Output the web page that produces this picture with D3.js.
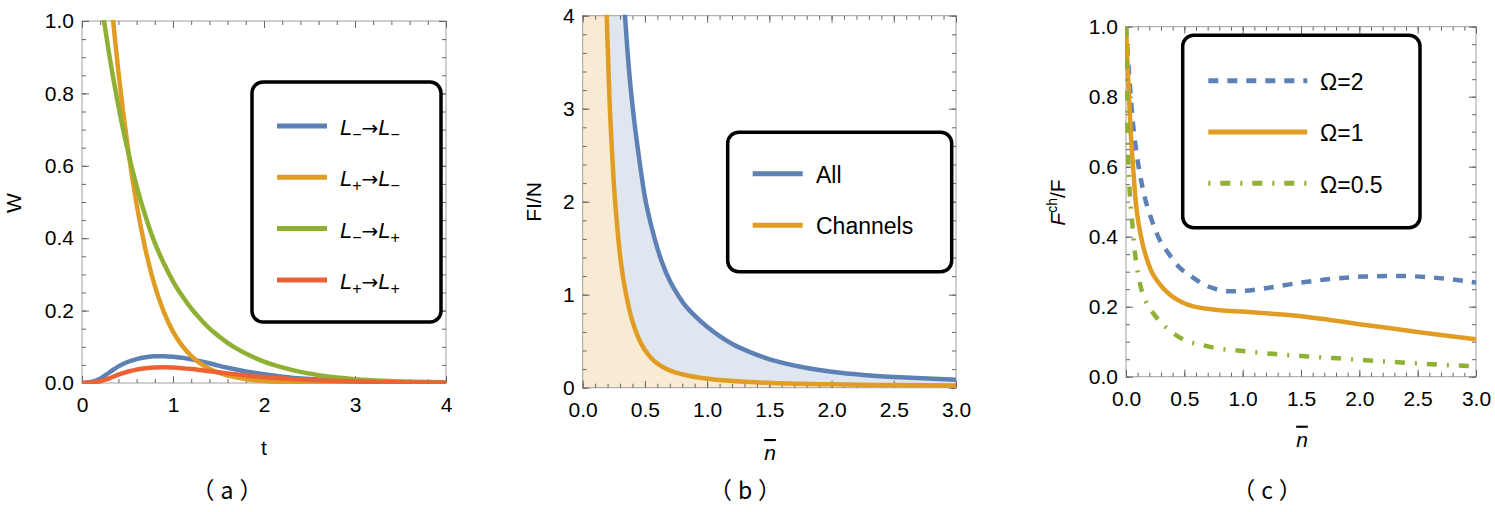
<!DOCTYPE html>
<html>
<head>
<meta charset="utf-8">
<script src="https://cdn.jsdelivr.net/npm/d3@7.9.0/dist/d3.min.js"></script>
<style>
  body { margin: 0; background: #fff; }
  svg text { font-family: "Liberation Sans", Arial, sans-serif; fill: #000; }
</style>
</head>
<body>
<svg id="chart" width="1495" height="512"></svg>
<script>
// ---- panel (a): W vs t ----
const aT = [0, 0.1, 0.2, 0.3, 0.4, 0.5, 0.6, 0.7, 0.8, 0.9, 1.0, 1.1, 1.2, 1.3, 1.4, 1.5, 1.6, 1.8, 2.0, 2.2, 2.5, 2.8, 3.2, 3.6, 4.0];
const aMinusMinus = [0, 0.003, 0.012, 0.029, 0.046, 0.058, 0.066, 0.0712, 0.0738, 0.0742, 0.0727, 0.0695, 0.0652, 0.0603, 0.0545, 0.048, 0.042, 0.032, 0.024, 0.0175, 0.011, 0.0068, 0.0034, 0.0017, 0.0009];
const aPlusPlus = [0, 0.001, 0.005, 0.013, 0.023, 0.031, 0.037, 0.041, 0.0428, 0.0432, 0.0425, 0.0408, 0.0385, 0.0357, 0.0327, 0.0296, 0.0266, 0.021, 0.0162, 0.0123, 0.0082, 0.0053, 0.0028, 0.0015, 0.0008];
const aTOrange = [0.3, 0.35, 0.4, 0.5, 0.6, 0.7, 0.8, 0.9, 1.0, 1.1, 1.2, 1.3, 1.4, 1.5, 1.7, 1.9, 2.2, 2.6, 3.0, 4.0];
const aPlusMinus = [1.12, 0.98, 0.86, 0.657, 0.494, 0.366, 0.268, 0.196, 0.142, 0.103, 0.075, 0.054, 0.039, 0.0286, 0.015, 0.0079, 0.003, 0.0008, 0.0002, 0];
const aTGreen = [0.2, 0.242, 0.3, 0.4, 0.5, 0.6, 0.7, 0.8, 0.9, 1.0, 1.1, 1.2, 1.3, 1.4, 1.5, 1.6, 1.7, 1.8, 2.0, 2.2, 2.4, 2.6, 2.8, 3.0, 3.3, 3.6, 4.0];
const aMinusPlus = [1.074, 1.0, 0.906, 0.765, 0.645, 0.544, 0.459, 0.387, 0.33, 0.281, 0.241, 0.206, 0.177, 0.151, 0.13, 0.111, 0.095, 0.0815, 0.0592, 0.043, 0.0306, 0.0218, 0.0152, 0.0106, 0.0062, 0.0036, 0.0018];
const aLegend = [["−", "−"], ["+", "−"], ["−", "+"], ["+", "+"]]; // L_i -> L_j
const aXTicks = [0, 1, 2, 3, 4];
const aYTicks = [0, 0.2, 0.4, 0.6, 0.8, 1.0];

// ---- panel (b): FI/N vs n ----
const bNAll = [0.32, 0.34, 0.37, 0.407, 0.45, 0.5, 0.555, 0.6, 0.648, 0.7, 0.75, 0.809, 0.9, 1.0, 1.1, 1.21, 1.35, 1.48, 1.6, 1.75, 2.0, 2.28, 2.55, 2.82, 3.0];
const bAll = [4.45, 4.0, 3.45, 2.95, 2.5, 2.05, 1.72, 1.5, 1.31, 1.15, 1.03, 0.91, 0.775, 0.655, 0.555, 0.465, 0.38, 0.315, 0.27, 0.225, 0.172, 0.135, 0.112, 0.095, 0.086];
const bNChan = [0.185, 0.193, 0.2, 0.21, 0.22, 0.235, 0.25, 0.27, 0.29, 0.31, 0.33, 0.36, 0.39, 0.42, 0.46, 0.5, 0.55, 0.6, 0.675, 0.75, 0.85, 0.943, 1.1, 1.21, 1.35, 1.48, 1.75, 2.0, 2.5, 3.0];
const bChannels = [4.4, 4.0, 3.7, 3.3, 2.95, 2.55, 2.2, 1.85, 1.55, 1.32, 1.14, 0.93, 0.76, 0.63, 0.5, 0.405, 0.32, 0.26, 0.2, 0.163, 0.129, 0.108, 0.084, 0.072, 0.061, 0.053, 0.0425, 0.036, 0.028, 0.0235];
const bLegend = ["All", "Channels"];
const bXTicks = [0, 0.5, 1.0, 1.5, 2.0, 2.5, 3.0];
const bYTicks = [0, 1, 2, 3, 4];

// ---- panel (c): F^ch/F vs n ----
const cN2 = [0, 0.015, 0.034, 0.057, 0.091, 0.14, 0.22, 0.29, 0.363, 0.45, 0.563, 0.67, 0.777, 0.891, 1.0, 1.177, 1.463, 1.748, 2.034, 2.32, 2.605, 2.891, 3.0];
const cOmega2 = [1.0, 0.92, 0.83, 0.733, 0.638, 0.543, 0.448, 0.39, 0.353, 0.315, 0.286, 0.263, 0.25, 0.244, 0.245, 0.252, 0.267, 0.279, 0.286, 0.288, 0.284, 0.274, 0.269];
const cN1 = [0, 0.012, 0.026, 0.04, 0.055, 0.07, 0.085, 0.1, 0.12, 0.14, 0.163, 0.19, 0.22, 0.263, 0.32, 0.39, 0.48, 0.577, 0.7, 0.806, 1.0, 1.25, 1.5, 1.75, 2.0, 2.25, 2.5, 2.75, 3.0];
const cOmega1 = [1.0, 0.9, 0.8, 0.7, 0.625, 0.555, 0.495, 0.455, 0.415, 0.383, 0.353, 0.325, 0.3, 0.276, 0.252, 0.231, 0.213, 0.201, 0.194, 0.19, 0.186, 0.18, 0.173, 0.162, 0.15, 0.139, 0.128, 0.117, 0.107];
const cN05 = [0, 0.006, 0.017, 0.029, 0.051, 0.077, 0.1, 0.126, 0.17, 0.234, 0.3, 0.406, 0.5, 0.663, 0.8, 0.92, 1.1, 1.377, 1.65, 1.92, 2.2, 2.49, 2.76, 3.0];
const cOmega05 = [1.0, 0.83, 0.64, 0.543, 0.448, 0.353, 0.3, 0.257, 0.215, 0.181, 0.155, 0.124, 0.105, 0.09, 0.08, 0.076, 0.07, 0.062, 0.056, 0.05, 0.044, 0.038, 0.033, 0.03];
const cLegend = ["Ω=2", "Ω=1", "Ω=0.5"];
const cXTicks = [0, 0.5, 1.0, 1.5, 2.0, 2.5, 3.0];
const cYTicks = [0, 0.2, 0.4, 0.6, 0.8, 1.0];

const blue = "#5E81B5", orange = "#E19C24", green = "#8FB032", red = "#EB6235";
const dash2 = "10,9", dashDot = "10,10,2,10";

const svg = d3.select("#chart");
const defs = svg.append("defs");
let clipN = 0;

function panel(box, xDom, yDom) {
  const w = box.right - box.left, h = box.bottom - box.top;
  const g = svg.append("g").attr("transform", `translate(${box.left},${box.top})`);
  const x = d3.scaleLinear().domain(xDom).range([0, w]);
  const y = d3.scaleLinear().domain(yDom).range([h, 0]);
  const id = "clip" + (clipN++);
  defs.append("clipPath").attr("id", id)
    .append("rect").attr("x", -1).attr("y", -1).attr("width", w + 2).attr("height", h + 2);
  const fillId = "fclip" + clipN;
  defs.append("clipPath").attr("id", fillId)
    .append("rect").attr("width", w).attr("height", h);
  return { g, x, y, w, h, id, fillId };
}

function frame(p, xMajor, xStep, yMajor, yStep, xFmt, yFmt) {
  const xd = p.x.domain(), yd = p.y.domain();
  const xMinor = d3.range(xd[0], xd[1] + 1e-9, xStep);
  const yMinor = d3.range(yd[0], yd[1] + 1e-9, yStep);
  p.g.append("rect").attr("width", p.w).attr("height", p.h)
    .attr("fill", "none").attr("stroke", "#a0a0a0");

  function put(axis, tx, ty) {
    const a = p.g.append("g").attr("transform", `translate(${tx},${ty})`).call(axis);
    a.select(".domain").remove();
    a.selectAll("line").attr("stroke", "#666");
    a.attr("font-size", 21).attr("font-family", null);
    return a;
  }
  put(d3.axisBottom(p.x).tickValues(xMinor).tickSize(-4).tickFormat(""), 0, p.h);
  put(d3.axisTop(p.x).tickValues(xMinor).tickSize(-4).tickFormat(""), 0, 0);
  put(d3.axisLeft(p.y).tickValues(yMinor).tickSize(-4).tickFormat(""), 0, 0);
  put(d3.axisRight(p.y).tickValues(yMinor).tickSize(-4).tickFormat(""), p.w, 0);
  put(d3.axisBottom(p.x).tickValues(xMajor).tickSizeInner(-7).tickSizeOuter(0).tickPadding(14).tickFormat(d3.format(xFmt)), 0, p.h);
  put(d3.axisTop(p.x).tickValues(xMajor).tickSize(-7).tickFormat(""), 0, 0);
  put(d3.axisLeft(p.y).tickValues(yMajor).tickSizeInner(-7).tickSizeOuter(0).tickPadding(8).tickFormat(d3.format(yFmt)), 0, 0);
  put(d3.axisRight(p.y).tickValues(yMajor).tickSize(-7).tickFormat(""), p.w, 0);
}

function curve(p, xs, ys, color, dash) {
  const line = d3.line().x(d => p.x(d[0])).y(d => p.y(d[1])).curve(d3.curveMonotoneX);
  p.g.append("path").datum(d3.zip(xs, ys))
    .attr("d", line)
    .attr("fill", "none")
    .attr("stroke", color)
    .attr("stroke-width", 4.5)
    .attr("stroke-dasharray", dash || null)
    .attr("clip-path", `url(#${p.id})`);
}

function fillToAxis(p, xs, ys, color) {
  const pts = [[p.x.domain()[0], ys[0]]].concat(d3.zip(xs, ys));
  const area = d3.area().x(d => p.x(d[0])).y0(p.h).y1(d => p.y(d[1])).curve(d3.curveMonotoneX);
  p.g.append("path").datum(pts).attr("d", area)
    .attr("fill", color).attr("clip-path", `url(#${p.fillId})`);
}

function legendBox(x0, y0, w, h) {
  svg.append("rect").attr("x", x0).attr("y", y0).attr("width", w).attr("height", h)
    .attr("rx", 11).attr("fill", "#fff").attr("stroke", "#000").attr("stroke-width", 3.5);
}
function legendLine(x1, x2, y, color, dash) {
  svg.append("line").attr("x1", x1).attr("x2", x2).attr("y1", y).attr("y2", y)
    .attr("stroke", color).attr("stroke-width", 5).attr("stroke-dasharray", dash || null);
}

function nbar(x, y) {
  svg.append("text").attr("x", x).attr("y", y).attr("text-anchor", "middle").attr("font-size", 21)
    .append("tspan").attr("font-style", "italic").style("text-decoration", "overline").text("n");
}
function tag(x, label) {
  svg.append("text").attr("x", x + 3).attr("y", 499).attr("text-anchor", "middle")
    .style("font-family", "'Noto Sans CJK SC', sans-serif").attr("font-size", 23)
    .attr("letter-spacing", 6)
    .text("（" + label + "）");
}

// ---------- (a) ----------
const pa = panel({ left: 82, top: 21, right: 446, bottom: 383 }, [0, 4], [0, 1]);
frame(pa, aXTicks, 0.2, aYTicks, 0.05, "d", ".1f");
curve(pa, aT, aMinusMinus, blue);
curve(pa, aTOrange, aPlusMinus, orange);
curve(pa, aTGreen, aMinusPlus, green);
curve(pa, aT, aPlusPlus, red);

legendBox(252, 82, 189, 240);
const aColors = [blue, orange, green, red];
aLegend.forEach((s, i) => {
  const yy = 126 + i * 51.3;
  legendLine(277, 327, yy, aColors[i]);
  const t = svg.append("text").attr("x", 340).attr("y", yy + 9).attr("font-size", 22);
  t.append("tspan").attr("font-style", "italic").text("L");
  t.append("tspan").attr("font-size", 16).attr("dy", 5).text(s[0]);
  t.append("tspan").attr("dy", -5).style("font-family", "'DejaVu Sans'").attr("font-size", 20).text("→");
  t.append("tspan").attr("font-style", "italic").text("L");
  t.append("tspan").attr("font-size", 16).attr("dy", 5).text(s[1]);
});
svg.append("text").attr("transform", "translate(20.5,203) rotate(-90)").attr("text-anchor", "middle")
  .attr("font-size", 21).text("W");
svg.append("text").attr("x", 264).attr("y", 455).attr("text-anchor", "middle").attr("font-size", 21).text("t");
tag(227, "a");

// ---------- (b) ----------
const pb = panel({ left: 582.7, top: 15.7, right: 956, bottom: 387.7 }, [0, 3], [0, 4]);
fillToAxis(pb, bNAll, bAll, "#DFE6F0");
fillToAxis(pb, bNChan, bChannels, "#F9EBD3");
frame(pb, bXTicks, 0.1, bYTicks, 0.2, ".1f", "d");
curve(pb, bNAll, bAll, blue);
curve(pb, bNChan, bChannels, orange);

legendBox(727.7, 132.3, 224, 139.4);
[blue, orange].forEach((c, i) => {
  const yy = 173.7 + i * 51.6;
  legendLine(752.7, 802.7, yy, c);
  svg.append("text").attr("x", 816).attr("y", yy + 9).attr("font-size", 23).text(bLegend[i]);
});
svg.append("text").attr("transform", "translate(540.5,202) rotate(-90)").attr("text-anchor", "middle")
  .attr("font-size", 21).text("FI/N");
nbar(770, 460);
tag(745, "b");

// ---------- (c) ----------
const pc = panel({ left: 1126, top: 26.7, right: 1476, bottom: 376.7 }, [0, 3], [0, 1]);
frame(pc, cXTicks, 0.1, cYTicks, 0.05, ".1f", ".1f");
curve(pc, cN2, cOmega2, blue, dash2);
curve(pc, cN1, cOmega1, orange);
curve(pc, cN05, cOmega05, green, dashDot);

legendBox(1182.7, 35.3, 237.3, 192.4);
[[blue, dash2], [orange, null], [green, "2,10,10,10"]].forEach((s, i) => {
  const yy = 80.7 + i * 51.3;
  legendLine(1208.3, 1307.3, yy, s[0], s[1]);
  svg.append("text").attr("x", 1320).attr("y", yy + 9.3).attr("font-size", 23).text(cLegend[i]);
});
const fl = svg.append("text").attr("transform", "translate(1065,202.5) rotate(-90)").attr("text-anchor", "middle")
  .attr("font-size", 21);
fl.append("tspan").attr("font-style", "italic").text("F");
fl.append("tspan").attr("font-size", 14).attr("dy", -8).text("ch");
fl.append("tspan").attr("dy", 8).text("/F");
nbar(1302, 446.7);
tag(1267, "c");
</script>
</body>
</html>
